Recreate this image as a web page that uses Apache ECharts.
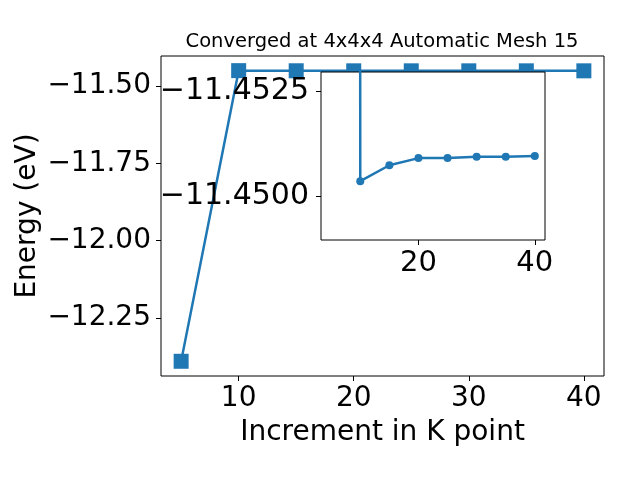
<!DOCTYPE html>
<html>
<head>
<meta charset="utf-8">
<script src="https://cdn.jsdelivr.net/npm/echarts@6/dist/echarts.min.js"></script>
<style>html,body{margin:0;padding:0;background:#fff}#c{width:640px;height:480px}</style>
</head>
<body>
<div id="c"></div>
<script>
const kpoints = [5, 10, 15, 20, 25, 30, 35, 40];
const energy = [-12.39, -11.45035, -11.45073, -11.45090, -11.45090, -11.45093, -11.45093, -11.45095];
const mainYTicks = [-12.25, -12.00, -11.75, -11.50];
const mainXTicks = [10, 20, 30, 40];
const insetYTicks = [-11.4525, -11.4500];
const insetXTicks = [20, 40];
const titleText = 'Converged at 4x4x4 Automatic Mesh 15';
const xName = 'Increment in K point';
const yName = 'Energy (eV)';

const pts = kpoints.map((k, i) => [k, energy[i]]);
const color = '#1f77b4';
const font = 'DejaVu Sans';
const minus = s => s.replace('-', '\u2212');

const chart = echarts.init(document.getElementById('c'), null, {renderer: 'canvas'});
const tickStyle = {show: true, inside: false, length: 5, lineStyle: {color: '#000', width: 1}};
chart.setOption({
  animation: false,
  backgroundColor: '#fff',
  graphic: [{
    type: 'text', x: 382, y: 42, z: 20,
    style: {text: titleText, align: 'center', verticalAlign: 'middle',
      fontFamily: font, fontSize: 19.5, fill: '#000'}
  }],
  grid: [
    {left: 161, top: 56, width: 443, height: 320, show: true, borderColor: '#000', borderWidth: 1, backgroundColor: 'transparent', z: 0, outerBoundsMode: 'none', containLabel: false},
    {left: 321, top: 72, width: 224, height: 168, show: true, borderColor: '#000', borderWidth: 1, backgroundColor: '#fff', z: 5, outerBoundsMode: 'none', containLabel: false}
  ],
  xAxis: [
    {
      gridIndex: 0, type: 'value', min: 3.25, max: 41.75,
      axisLine: {show: false}, splitLine: {show: false},
      axisTick: Object.assign({customValues: mainXTicks}, tickStyle),
      axisLabel: {customValues: mainXTicks, margin: 9, fontFamily: font, fontSize: 28, color: '#000'},
      name: xName, nameLocation: 'middle', nameGap: 43, nameMoveOverlap: false,
      nameTextStyle: {fontFamily: font, fontSize: 28, color: '#000'}
    },
    {
      gridIndex: 1, type: 'value', min: 3.25, max: 41.75, z: 7,
      axisLine: {show: false}, splitLine: {show: false},
      axisTick: Object.assign({customValues: insetXTicks}, tickStyle),
      axisLabel: {customValues: insetXTicks, margin: 9, fontFamily: font, fontSize: 29, color: '#000'}
    }
  ],
  yAxis: [
    {
      gridIndex: 0, type: 'value', min: -12.4376, max: -11.403,
      axisLine: {show: false}, splitLine: {show: false},
      axisTick: Object.assign({customValues: mainYTicks}, tickStyle),
      axisLabel: {customValues: mainYTicks, margin: 10, fontFamily: font, fontSize: 28, color: '#000',
        formatter: v => minus(v.toFixed(2))},
      name: yName, nameLocation: 'middle', nameGap: 119, nameMoveOverlap: false,
      nameTextStyle: {fontFamily: font, fontSize: 28, color: '#000'}
    },
    {
      gridIndex: 1, type: 'value', min: -11.45295, max: -11.44895, inverse: true, z: 7,
      axisLine: {show: false}, splitLine: {show: false},
      axisTick: Object.assign({customValues: insetYTicks}, tickStyle),
      axisLabel: {customValues: insetYTicks, margin: 12, fontFamily: font, fontSize: 30, color: '#000',
        formatter: v => minus(v.toFixed(4))}
    }
  ],
  series: [
    {
      type: 'line', xAxisIndex: 0, yAxisIndex: 0, data: pts, z: 2,
      symbol: 'rect', symbolSize: 15, showAllSymbol: true,
      lineStyle: {color: color, width: 2.5}, itemStyle: {color: color}
    },
    {
      type: 'line', xAxisIndex: 1, yAxisIndex: 1, data: pts, z: 6, clip: true,
      symbol: 'circle', symbolSize: 8, showAllSymbol: true,
      lineStyle: {color: color, width: 2.5}, itemStyle: {color: color}
    }
  ]
});
</script>
</body>
</html>
